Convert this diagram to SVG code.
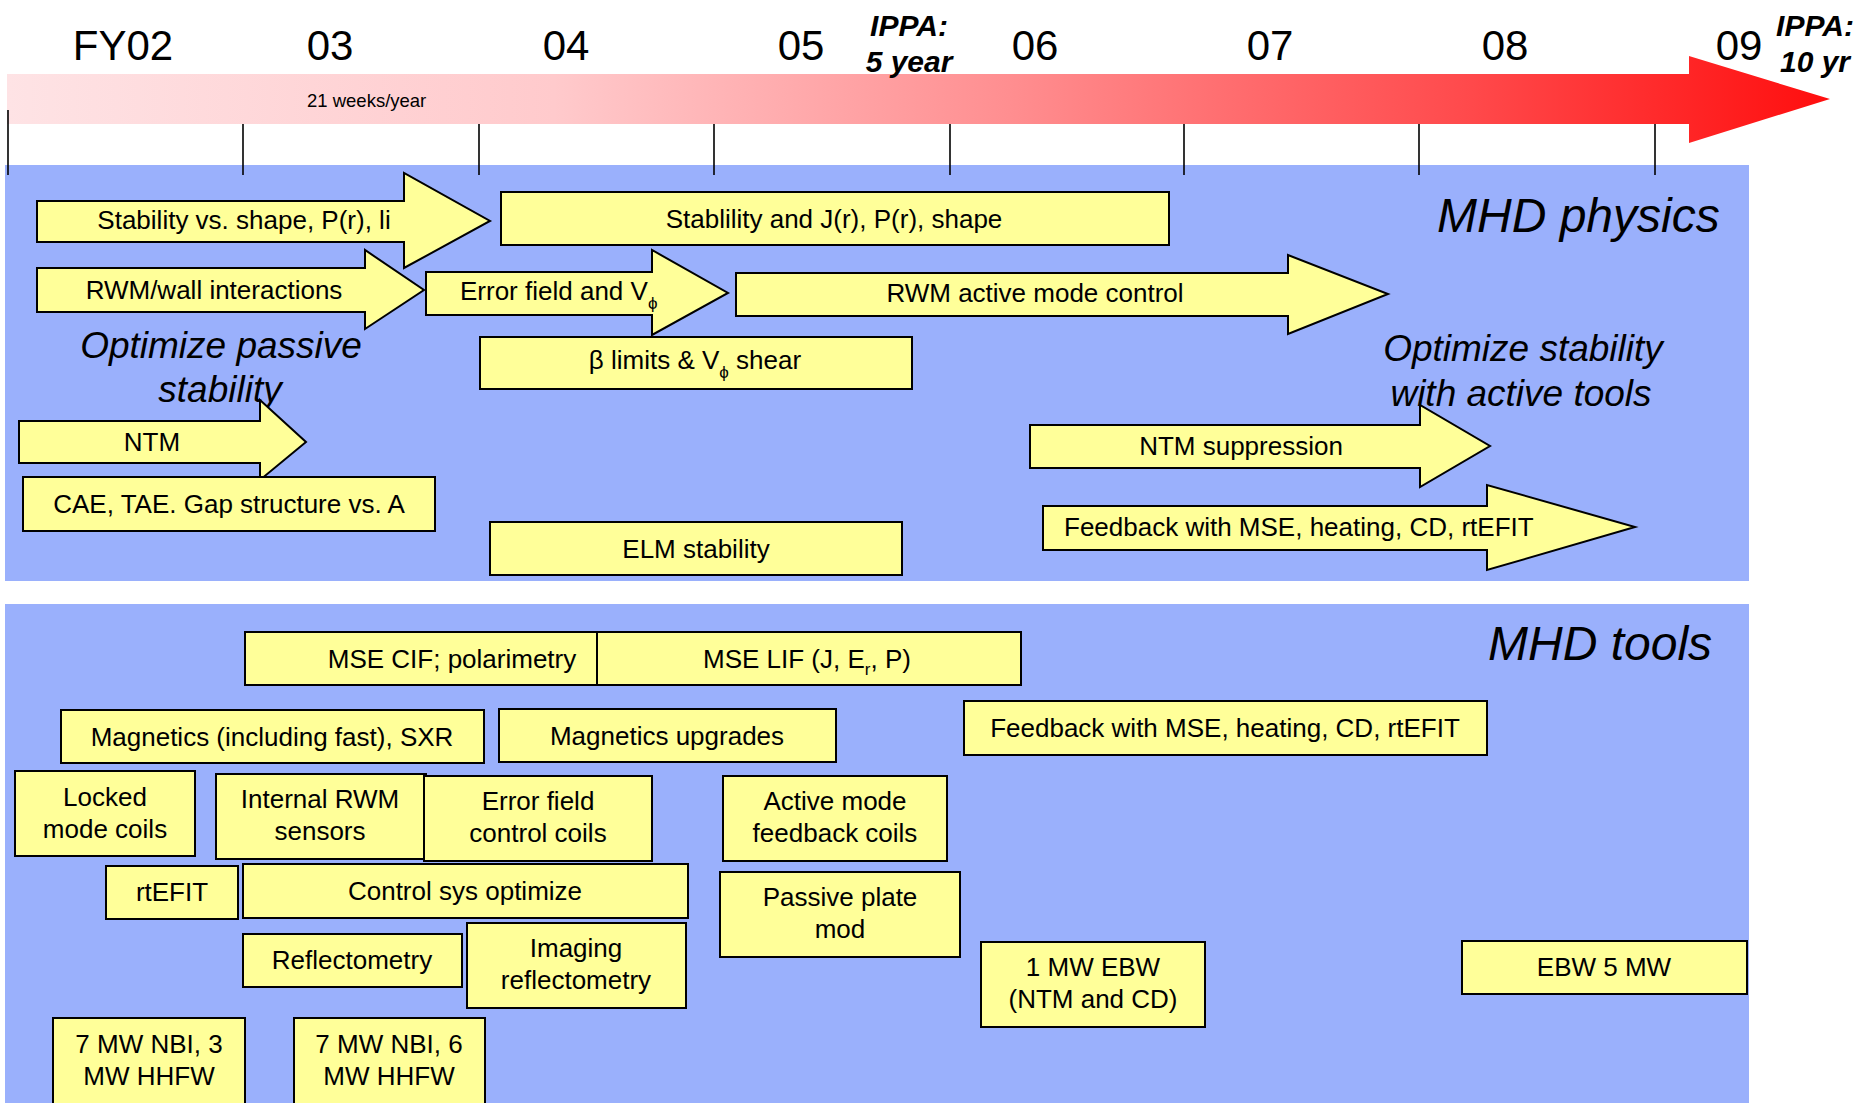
<svg xmlns="http://www.w3.org/2000/svg" width="1862" height="1103" viewBox="0 0 1862 1103">
<style>
text{font-family:"Liberation Sans",Arial,sans-serif;fill:#000}
.yr{font-size:42px;text-anchor:middle}
.ippa{font-size:30px;font-weight:bold;font-style:italic;text-anchor:middle}
.panel{fill:#9AB0FC}
.nd{fill:#FFFF99;stroke:#000;stroke-width:2}
.t{font-size:26px;text-anchor:middle}
.ts{font-size:26px}
.it{font-size:37px;font-style:italic;text-anchor:middle}
.big{font-size:48px;font-style:italic}
.tick{stroke:#000;stroke-width:1.6}
.sub{font-size:17px}
</style>
<defs>
<linearGradient id="tl" gradientUnits="userSpaceOnUse" x1="7" y1="0" x2="1830" y2="0">
<stop offset="0" stop-color="#FEE3E5"/>
<stop offset="0.3" stop-color="#FFCACC"/>
<stop offset="0.55" stop-color="#FF8E90"/>
<stop offset="0.8" stop-color="#FF4A4C"/>
<stop offset="1" stop-color="#FF0E0E"/>
</linearGradient>
</defs>
<rect width="1862" height="1103" fill="#fff"/>
<g id="timeline">
<polygon points="7,74 1689,74 1689,56 1830,99 1689,143 1689,124 7,124" fill="url(#tl)"/>
<text class="yr" x="123" y="60">FY02</text>
<text class="yr" x="330" y="60">03</text>
<text class="yr" x="566" y="60">04</text>
<text class="yr" x="801" y="60">05</text>
<text class="yr" x="1035" y="60">06</text>
<text class="yr" x="1270" y="60">07</text>
<text class="yr" x="1505" y="60">08</text>
<text class="yr" x="1739" y="60">09</text>
<text class="ippa" x="909" y="36">IPPA:</text>
<text class="ippa" x="909" y="72">5 year</text>
<text class="ippa" x="1815" y="36">IPPA:</text>
<text class="ippa" x="1815" y="72">10 yr</text>
<text x="307" y="107" style="font-size:18.5px">21 weeks/year</text>
</g>
<g id="panel-physics"><rect class="panel" x="5" y="165" width="1744" height="416"/></g>
<g id="panel-tools"><rect class="panel" x="5" y="604" width="1744" height="499"/></g>
<g id="ticks">
<line class="tick" x1="8" y1="110" x2="8" y2="175"/>
<line class="tick" x1="243" y1="124" x2="243" y2="175"/>
<line class="tick" x1="479" y1="124" x2="479" y2="175"/>
<line class="tick" x1="714" y1="124" x2="714" y2="175"/>
<line class="tick" x1="950" y1="124" x2="950" y2="175"/>
<line class="tick" x1="1184" y1="124" x2="1184" y2="175"/>
<line class="tick" x1="1419" y1="124" x2="1419" y2="175"/>
<line class="tick" x1="1655" y1="124" x2="1655" y2="175"/>
</g>
<g id="labels">
<text class="big" x="1437" y="232">MHD physics</text>
<text class="big" x="1488" y="660">MHD tools</text>
<text class="it" x="221" y="358">Optimize passive</text>
<text class="it" x="220" y="402">stability</text>
<text class="it" x="1523" y="361">Optimize stability</text>
<text class="it" x="1521" y="406">with active tools</text>
</g>
<g id="connectors"></g>
<g id="n-stab-shape"><polygon class="nd" points="37,201 404,201 404,173 490,221 404,268 404,242 37,242"/><text class="t" x="244" y="229">Stability vs. shape, P(r), li</text></g>
<g id="n-stab-j"><rect class="nd" x="501" y="192" width="668" height="53"/><text class="t" x="834" y="228">Stablility and J(r), P(r), shape</text></g>
<g id="n-rwm-wall"><polygon class="nd" points="37,268 365,268 365,250 424,290 365,329 365,312 37,312"/><text class="t" x="214" y="299">RWM/wall interactions</text></g>
<g id="n-error-field"><polygon class="nd" points="426,272 652,272 652,250 728,293 652,335 652,315 426,315"/><text class="ts" x="460" y="300">Error field and V<tspan class="sub" dy="9">ϕ</tspan></text></g>
<g id="n-rwm-active"><polygon class="nd" points="736,273 1288,273 1288,255 1388,294 1288,334 1288,316 736,316"/><text class="t" x="1035" y="302">RWM active mode control</text></g>
<g id="n-beta"><rect class="nd" x="480" y="337" width="432" height="52"/><text class="t" x="695" y="369">β limits &amp; V<tspan class="sub" dy="9">ϕ</tspan><tspan dy="-9"> shear</tspan></text></g>
<g id="n-ntm"><polygon class="nd" points="19,421 260,421 260,400 306,442 260,480 260,463 19,463"/><text class="t" x="152" y="451">NTM</text></g>
<g id="n-cae"><rect class="nd" x="23" y="477" width="412" height="54"/><text class="t" x="229" y="513">CAE, TAE. Gap structure vs. A</text></g>
<g id="n-elm"><rect class="nd" x="490" y="522" width="412" height="53"/><text class="t" x="696" y="558">ELM stability</text></g>
<g id="n-ntm-supp"><polygon class="nd" points="1030,425 1420,425 1420,405 1490,446 1420,487 1420,468 1030,468"/><text class="t" x="1241" y="455">NTM suppression</text></g>
<g id="n-feedback-phys"><polygon class="nd" points="1043,506 1487,506 1487,485 1635,527 1487,570 1487,550 1043,550"/><text class="ts" x="1064" y="536">Feedback with MSE, heating, CD, rtEFIT</text></g>
<g id="n-mse-cif"><rect class="nd" x="245" y="632" width="352" height="53"/><text class="t" x="452" y="668">MSE CIF; polarimetry</text></g>
<g id="n-mse-lif"><rect class="nd" x="597" y="632" width="424" height="53"/><text class="ts" x="703" y="668">MSE LIF (J, E<tspan class="sub" dy="7">r</tspan><tspan dy="-7">, P)</tspan></text></g>
<g id="n-magnetics"><rect class="nd" x="61" y="710" width="423" height="53"/><text class="t" x="272" y="746">Magnetics (including fast), SXR</text></g>
<g id="n-mag-upg"><rect class="nd" x="499" y="709" width="337" height="53"/><text class="t" x="667" y="745">Magnetics upgrades</text></g>
<g id="n-feedback-tools"><rect class="nd" x="964" y="701" width="523" height="54"/><text class="t" x="1225" y="737">Feedback with MSE, heating, CD, rtEFIT</text></g>
<g id="n-locked"><rect class="nd" x="15" y="771" width="180" height="85"/><text class="t" x="105" y="806">Locked</text><text class="t" x="105" y="838">mode coils</text></g>
<g id="n-internal"><rect class="nd" x="216" y="774" width="210" height="85"/><text class="t" x="320" y="808">Internal RWM</text><text class="t" x="320" y="840">sensors</text></g>
<g id="n-errcoils"><rect class="nd" x="424" y="776" width="228" height="85"/><text class="t" x="538" y="810">Error field</text><text class="t" x="538" y="842">control coils</text></g>
<g id="n-active"><rect class="nd" x="723" y="776" width="224" height="85"/><text class="t" x="835" y="810">Active mode</text><text class="t" x="835" y="842">feedback coils</text></g>
<g id="n-rtefit"><rect class="nd" x="106" y="866" width="132" height="53"/><text class="t" x="172" y="901">rtEFIT</text></g>
<g id="n-control"><rect class="nd" x="243" y="864" width="445" height="54"/><text class="t" x="465" y="900">Control sys optimize</text></g>
<g id="n-passive"><rect class="nd" x="720" y="872" width="240" height="85"/><text class="t" x="840" y="906">Passive plate</text><text class="t" x="840" y="938">mod</text></g>
<g id="n-reflect"><rect class="nd" x="243" y="934" width="219" height="53"/><text class="t" x="352" y="969">Reflectometry</text></g>
<g id="n-imaging"><rect class="nd" x="467" y="923" width="219" height="85"/><text class="t" x="576" y="957">Imaging</text><text class="t" x="576" y="989">reflectometry</text></g>
<g id="n-ebw1"><rect class="nd" x="981" y="942" width="224" height="85"/><text class="t" x="1093" y="976">1 MW EBW</text><text class="t" x="1093" y="1008">(NTM and CD)</text></g>
<g id="n-ebw5"><rect class="nd" x="1462" y="941" width="285" height="53"/><text class="t" x="1604" y="976">EBW 5 MW</text></g>
<g id="n-nbi3"><rect class="nd" x="53" y="1018" width="192" height="95"/><text class="t" x="149" y="1053">7 MW NBI, 3</text><text class="t" x="149" y="1085">MW HHFW</text></g>
<g id="n-nbi6"><rect class="nd" x="294" y="1018" width="191" height="95"/><text class="t" x="389" y="1053">7 MW NBI, 6</text><text class="t" x="389" y="1085">MW HHFW</text></g>
</svg>
